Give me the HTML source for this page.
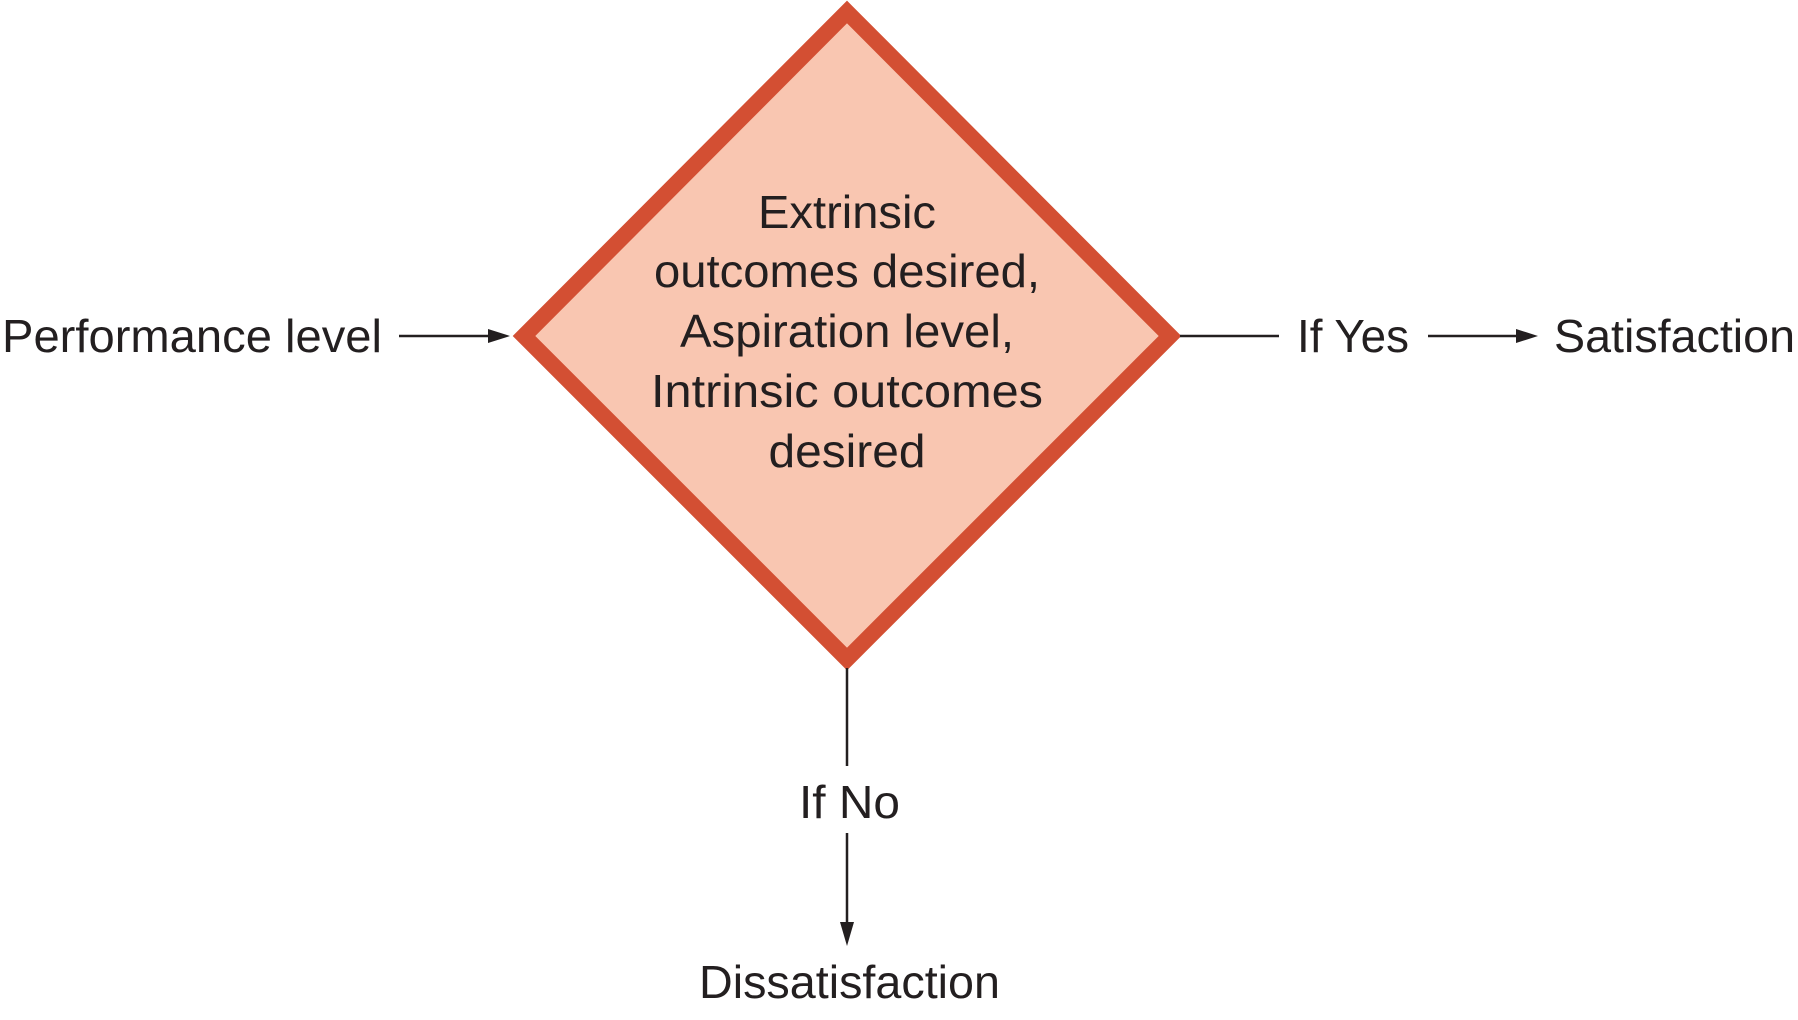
<!DOCTYPE html>
<html><head><meta charset="utf-8"><style>
html,body{margin:0;padding:0;background:#fff;}
svg{display:block;}
text{font-family:"Liberation Sans",sans-serif;font-size:46px;fill:#231f20;}
</style></head><body>
<svg width="1798" height="1020" viewBox="0 0 1798 1020" xmlns="http://www.w3.org/2000/svg">
<polygon points="847,12 1170,336 847,659 524,336" fill="#f9c6b1" stroke="#d34f33" stroke-width="16" stroke-linejoin="miter" stroke-miterlimit="10"/>
<g text-anchor="middle">
<text x="847" y="228" textLength="178" lengthAdjust="spacingAndGlyphs">Extrinsic</text>
<text x="847" y="287" textLength="386" lengthAdjust="spacingAndGlyphs">outcomes desired,</text>
<text x="847" y="347" textLength="334" lengthAdjust="spacingAndGlyphs">Aspiration level,</text>
<text x="847" y="407" textLength="392" lengthAdjust="spacingAndGlyphs">Intrinsic outcomes</text>
<text x="847" y="467" textLength="157" lengthAdjust="spacingAndGlyphs">desired</text>
</g>
<text x="2" y="352" textLength="380" lengthAdjust="spacingAndGlyphs">Performance level</text>
<line x1="399" y1="336" x2="490" y2="336" stroke="#231f20" stroke-width="2.5"/>
<polygon points="510,336 488,329 488,343" fill="#231f20"/>
<line x1="1180" y1="336" x2="1279" y2="336" stroke="#231f20" stroke-width="2.5"/>
<text x="1297" y="352" textLength="112" lengthAdjust="spacingAndGlyphs">If Yes</text>
<line x1="1428" y1="336" x2="1518" y2="336" stroke="#231f20" stroke-width="2.5"/>
<polygon points="1538,336 1516,329 1516,343" fill="#231f20"/>
<text x="1554" y="352" textLength="241" lengthAdjust="spacingAndGlyphs">Satisfaction</text>
<line x1="847" y1="668" x2="847" y2="766" stroke="#231f20" stroke-width="2.5"/>
<text x="799" y="818" textLength="101" lengthAdjust="spacingAndGlyphs">If No</text>
<line x1="847" y1="833" x2="847" y2="925" stroke="#231f20" stroke-width="2.5"/>
<polygon points="847,946 840,922 854,922" fill="#231f20"/>
<text x="699" y="998" textLength="301" lengthAdjust="spacingAndGlyphs">Dissatisfaction</text>
</svg>
</body></html>
